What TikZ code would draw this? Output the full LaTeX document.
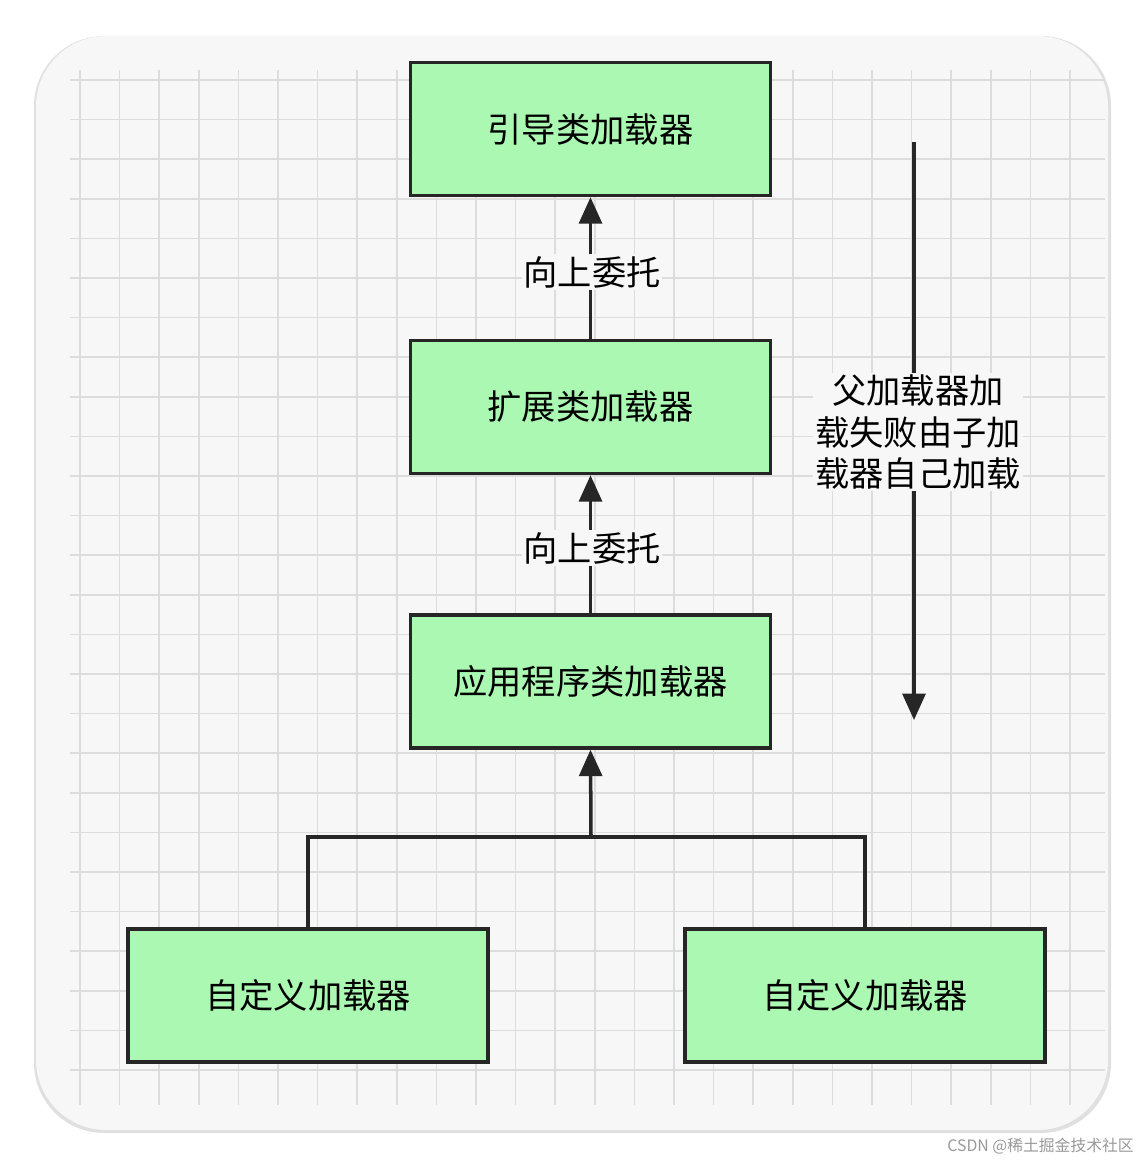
\documentclass[tikz,border=0pt]{standalone}
\usepackage{fontspec}
\newfontfamily\cjk{Noto Sans CJK SC}
\usetikzlibrary{arrows.meta}
\definecolor{boxgreen}{HTML}{AAF8B2}
\definecolor{gridc}{HTML}{DCDCDC}
\definecolor{cardc}{HTML}{F7F7F7}
\tikzset{
  box/.style={draw=black!85,line width=2pt,fill=boxgreen,minimum width=7.2cm,minimum height=2.66cm,font=\cjk\fontsize{19.5}{24}\selectfont},
  conn/.style={draw=black!85,line width=2pt},
  arr/.style={conn,-{Triangle[length=15pt,width=13pt]}},
  lbl/.style={fill=cardc,font=\cjk\fontsize{19.5}{24}\selectfont,inner sep=1pt}
}
\begin{document}
\begin{tikzpicture}[x=0.02cm,y=-0.02cm]
\useasboundingbox (0,0) rectangle (1144,1166);
\fill[white] (0,0) rectangle (1144,1166);
\fill[black!12,rounded corners=40pt] (34,36) rectangle (1111,1133);
\fill[cardc,rounded corners=40pt] (36,36) rectangle (1108,1130);
\foreach \i in {0,...,25} {
  \draw[gridc,line width=0.9pt] (80+39.6*\i,70) -- (80+39.6*\i,1105);
  \draw[gridc,line width=0.9pt] (70,80+39.6*\i) -- (1105,80+39.6*\i);
}
\node[box] (boot) at (590.5,129) {引导类加载器};
\node[box] (ext) at (590.5,407) {扩展类加载器};
\node[box] (app) at (590.5,681.5) {应用程序类加载器};
\node[box] (c1) at (308,995.5) {自定义加载器};
\node[box] (c2) at (865,995.5) {自定义加载器};
\draw[arr] (ext.north) -- (boot.south);
\node[lbl] (l1) at (592,272) {向上委托};
\draw[arr] (app.north) -- (ext.south);
\node[lbl] (l2) at (592,548) {向上委托};
\coordinate (j) at (591,837);
\draw[conn] (c1.north) |- (j) -| (c2.north);
\draw[arr] (j) -- (app.south);
\coordinate (t) at (914,142);
\coordinate (b) at (914,720);
\draw[arr] (t) -- (b);
\node[lbl,align=center,font=\cjk\fontsize{19.5}{23.5}\selectfont] (l3) at (918,432) {父加载器加\\载失败由子加\\载器自己加载};
\node[text=black!40,font=\cjk\fontsize{9}{11}\selectfont,anchor=east] (wm) at (1140,1146) {CSDN @稀土掘金技术社区};
\end{tikzpicture}
\end{document}
